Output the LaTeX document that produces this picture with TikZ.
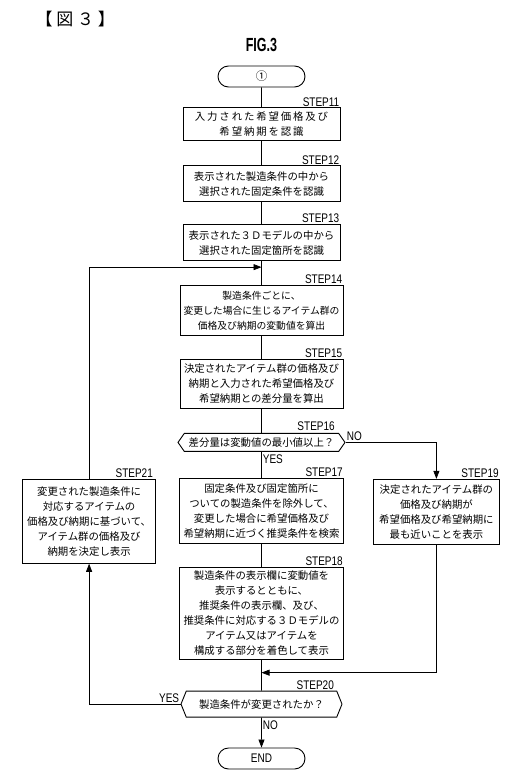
\documentclass[tikz,border=0pt]{standalone}
\usepackage{fontspec}
\usepackage{tikz}
\usetikzlibrary{positioning, shapes.misc, shapes.symbols, arrows.meta}

\newfontfamily\jpfont{Noto Sans CJK JP}
\newfontfamily\jpwide[LetterSpace=18]{Noto Sans CJK JP}
\newfontfamily\narrowfont[FakeStretch=0.8]{Liberation Sans}
\newfontfamily\figfont[FakeStretch=0.66]{Liberation Sans}

\begin{document}
\begin{tikzpicture}[
    node distance=24pt,
    stepbox/.style={rectangle, draw, line width=0.9pt, inner xsep=1pt, inner ysep=2pt, align=center, font=\jpfont\fontsize{10.4}{15}\selectfont},
    decision/.style={signal, signal to=east and west, draw, line width=0.9pt, inner xsep=1pt, inner ysep=1pt, font=\jpfont\fontsize{10.4}{15}\selectfont},
    terminal/.style={rounded rectangle, draw, line width=0.9pt, minimum width=89pt, minimum height=21pt, inner sep=1pt},
    steplabel/.style={font=\narrowfont\fontsize{12.5}{13}\selectfont, inner sep=1pt},
    flowline/.style={line width=0.7pt},
    flowarrow/.style={flowline, -{Triangle[length=8pt, width=6pt]}}
]
\useasboundingbox (0,0) rectangle (507pt,-773pt);

% Header
\node[anchor=west, font=\jpfont\fontsize{17}{20}\selectfont] (hdr) at (32pt,-19pt) {【 図 ３ 】};
\node[font=\figfont\bfseries\fontsize{19}{20}\selectfont] (fig) at (261.5pt,-45pt) {FIG.3};

% Main column
\node[terminal, font=\jpfont\fontsize{11.5}{12}\selectfont] (start) at (261.5pt,-76.5pt) {①};
\node[stepbox, minimum width=157pt, minimum height=33pt, font=\jpwide\fontsize{10.4}{15}\selectfont, below=20pt of start] (s11) {入力された希望価格及び\\希望納期を認識};
\node[stepbox, minimum width=157pt, minimum height=36pt, below=24pt of s11] (s12) {表示された製造条件の中から\\選択された固定条件を認識};
\node[stepbox, minimum width=157pt, minimum height=36pt, below=22pt of s12] (s13) {表示された３Ｄモデルの中から\\選択された固定箇所を認識};
\node[stepbox, minimum width=163pt, minimum height=50pt, font=\jpfont\fontsize{9.8}{15}\selectfont, below=24pt of s13] (s14) {製造条件ごとに、\\変更した場合に生じるアイテム群の\\価格及び納期の変動値を算出};
\node[stepbox, minimum width=163pt, minimum height=49pt, below=23pt of s14] (s15) {決定されたアイテム群の価格及び\\納期と入力された希望価格及び\\希望納期との差分量を算出};
\node[decision, minimum width=167pt, minimum height=18pt, signal pointer angle=110, below=24pt of s15] (s16) {差分量は変動値の最小値以上？};
\node[stepbox, minimum width=164pt, minimum height=65pt, below=26pt of s16] (s17) {固定条件及び固定箇所に\\ついての製造条件を除外して、\\変更した場合に希望価格及び\\希望納期に近づく推奨条件を検索};
\node[stepbox, minimum width=164pt, minimum height=92pt, below=23pt of s17] (s18) {製造条件の表示欄に変動値を\\表示するとともに、\\推奨条件の表示欄、及び、\\推奨条件に対応する３Ｄモデルの\\アイテム又はアイテムを\\構成する部分を着色して表示};
\node[decision, minimum width=161pt, minimum height=26pt, signal pointer angle=136, below=31pt of s18] (s20) {製造条件が変更されたか？};
\node[terminal, font=\narrowfont\fontsize{12.5}{13}\selectfont, below=30pt of s20] (end) {END};

% Side branches
\node[stepbox, minimum width=126pt, minimum height=65pt, below right=1pt and 29pt of s17.north east] (s19) {決定されたアイテム群の\\価格及び納期が\\希望価格及び希望納期に\\最も近いことを表示};
\node[stepbox, minimum width=133pt, minimum height=84pt, below left=1pt and 23pt of s17.north west] (s21) {変更された製造条件に\\対応するアイテムの\\価格及び納期に基づいて、\\アイテム群の価格及び\\納期を決定し表示};

% Step labels
\node[steplabel, above left=0pt of s11.north east] (l11) {STEP11};
\node[steplabel, above left=0pt of s12.north east] (l12) {STEP12};
\node[steplabel, above left=0pt of s13.north east] (l13) {STEP13};
\node[steplabel, above left=0pt of s14.north east] (l14) {STEP14};
\node[steplabel, above left=0pt of s15.north east] (l15) {STEP15};
\node[steplabel, above left=1pt and 3pt of s16.north east] (l16) {STEP16};
\node[steplabel, above left=0pt of s17.north east] (l17) {STEP17};
\node[steplabel, above left=0pt of s18.north east] (l18) {STEP18};
\node[steplabel, above left=0pt of s19.north east] (l19) {STEP19};
\node[steplabel, above left=0pt and 2pt of s20.north east] (l20) {STEP20};
\node[steplabel, above left=0pt and 2pt of s21.north east] (l21) {STEP21};

% Junctions on the main line
\coordinate[below=6pt of s13] (j1);
\coordinate[below=13pt of s18] (j2);

% Edges
\draw[flowline] (start) -- (s11);
\draw[flowline] (s11) -- (s12);
\draw[flowline] (s12) -- (s13);
\draw[flowline] (s13) -- (s14);
\draw[flowline] (s14) -- (s15);
\draw[flowline] (s15) -- (s16);
\draw[flowline] (s16) -- node[steplabel, pos=0.27, anchor=west] {YES} (s17);
\draw[flowline] (s17) -- (s18);
\draw[flowline] (s18) -- (s20);
\draw[flowarrow] (s20) -- node[steplabel, pos=0.27, anchor=west] {NO} (end);
\draw[flowarrow] (s16.east) node[steplabel, anchor=south west] {NO} -| (s19.north);
\draw[flowarrow] (s19.south) |- (j2);
\draw[flowarrow] (s20.west) node[steplabel, anchor=south east] {YES} -| (s21.south);
\draw[flowarrow] (s21.north) |- (j1);

\end{tikzpicture}
\end{document}
